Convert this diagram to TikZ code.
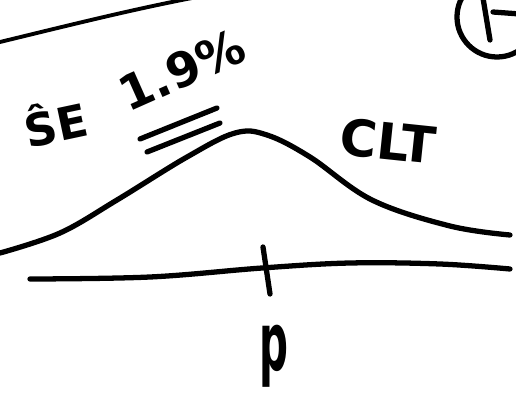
\documentclass[tikz,border=0pt]{standalone}
\usepackage{fontspec}
\setsansfont{DejaVu Sans}
\begin{document}
\begin{tikzpicture}[
    x=0.05cm, y=-0.05cm,
    ink/.style={line width=7.5pt, line cap=round, line join=round},
    hand/.style={font=\sffamily\bfseries, inner sep=0pt}
  ]
  \useasboundingbox (0,0) rectangle (516,402);
  % top stroke
  \draw[ink, line width=5.5pt] (0,42) .. controls (70,25) and (130,10) .. (192,-2);
  % tag in the corner
  \draw[ink] (497,17) circle[radius=40];
  \draw[ink] (483,-2) -- (490,40);
  \draw[ink] (493,12) -- (520,14);
  % labels
  \node[hand, rotate=12] (se) at (55,122) {\fontsize{64}{64}\selectfont\^{S}E};
  \node[hand, rotate=24] (pct) at (182,70) {\fontsize{68}{68}\selectfont 1.9\%};
  \node[hand, rotate=-6] (clt) at (388,141) {\fontsize{72}{72}\selectfont CLT};
  \node[hand, xscale=0.6, yscale=1.2] (pval) at (274,356) {\fontsize{96}{96}\selectfont p};
  % double underline
  \draw[ink] (140,139) -- (217,108);
  \draw[ink] (147,152) -- (220,123);
  % bell curve
  \draw[ink] plot[smooth, tension=0.6] coordinates
    {(0,253) (60,233) (117,200) (187,157) (235,133) (267,135) (310,157) (372,200) (450,226) (510,235)};
  % axis and tick
  \draw[ink] plot[smooth, tension=0.6] coordinates
    {(30,279) (150,277) (262,268) (350,263) (440,264) (510,269)};
  \draw[ink] (263,247) -- (270,294);
\end{tikzpicture}
\end{document}
